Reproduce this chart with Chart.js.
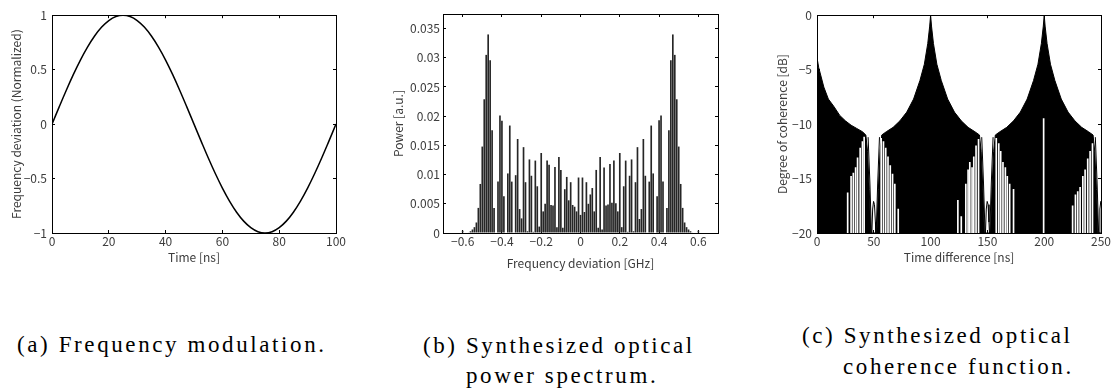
<!DOCTYPE html>
<html>
<head>
<meta charset="utf-8">
<title>Synthesized coherence</title>
<script src="https://cdn.jsdelivr.net/npm/chart.js@4.4.1/dist/chart.umd.min.js"></script>
<style>
    body { margin: 0; background: #fff; }
    #page { position: relative; width: 1115px; height: 390px; overflow: hidden; background: #fff; }
    .panel { position: absolute; top: 0; height: 275px; }
    .caption {
        position: absolute;
        font-family: "Liberation Serif", "Times New Roman", serif;
        font-size: 23px;
        line-height: 23px;
        letter-spacing: 2.6px;
        color: #000;
        white-space: nowrap;
    }
</style>
</head>
<body>
<div id="page">
    <div class="panel" style="left:0px;width:350px;"><canvas id="modChart"></canvas></div>
    <div class="panel" style="left:370px;width:360px;"><canvas id="specChart"></canvas></div>
    <div class="panel" style="left:740px;width:375px;"><canvas id="cohChart"></canvas></div>

    <div class="caption" style="left:17px;top:333px;">(a) Frequency modulation.</div>
    <div class="caption" style="left:423px;top:334px;">(b) Synthesized optical</div>
    <div class="caption" style="left:466px;top:364px;">power spectrum.</div>
    <div class="caption" style="left:802px;top:324px;">(c) Synthesized optical</div>
    <div class="caption" style="left:843px;top:355px;">coherence function.</div>
</div>
<script>
// (a) frequency modulation, one period
const modTime = [0, 2.5, 5, 7.5, 10, 12.5, 15, 17.5, 20, 22.5, 25, 27.5, 30, 32.5, 35, 37.5, 40, 42.5, 45, 47.5,
    50, 52.5, 55, 57.5, 60, 62.5, 65, 67.5, 70, 72.5, 75, 77.5, 80, 82.5, 85, 87.5, 90, 92.5, 95, 97.5, 100];
const modValue = [0, 0.156, 0.309, 0.454, 0.588, 0.707, 0.809, 0.891, 0.951, 0.988, 1, 0.988, 0.951, 0.891, 0.809, 0.707, 0.588, 0.454, 0.309, 0.156,
    0, -0.156, -0.309, -0.454, -0.588, -0.707, -0.809, -0.891, -0.951, -0.988, -1, -0.988, -0.951, -0.891, -0.809, -0.707, -0.588, -0.454, -0.309, -0.156, 0];
const modTicksX = [0, 20, 40, 60, 80, 100];
const modTicksY = [-1, -0.5, 0, 0.5, 1];

// (b) power spectrum lines [GHz] / [a.u.]
const specFreq = [
    -0.60, -0.59, -0.58, -0.57, -0.56, -0.55, -0.54, -0.53, -0.52, -0.51,
    -0.50, -0.49, -0.48, -0.47, -0.46, -0.45, -0.44, -0.43, -0.42, -0.41,
    -0.40, -0.39, -0.38, -0.37, -0.36, -0.35, -0.34, -0.33, -0.32, -0.31,
    -0.30, -0.29, -0.28, -0.27, -0.26, -0.25, -0.24, -0.23, -0.22, -0.21,
    -0.20, -0.19, -0.18, -0.17, -0.16, -0.15, -0.14, -0.13, -0.12, -0.11,
    -0.10, -0.09, -0.08, -0.07, -0.06, -0.05, -0.04, -0.03, -0.02, -0.01,
    0,
    0.01, 0.02, 0.03, 0.04, 0.05, 0.06, 0.07, 0.08, 0.09, 0.10,
    0.11, 0.12, 0.13, 0.14, 0.15, 0.16, 0.17, 0.18, 0.19, 0.20,
    0.21, 0.22, 0.23, 0.24, 0.25, 0.26, 0.27, 0.28, 0.29, 0.30,
    0.31, 0.32, 0.33, 0.34, 0.35, 0.36, 0.37, 0.38, 0.39, 0.40,
    0.41, 0.42, 0.43, 0.44, 0.45, 0.46, 0.47, 0.48, 0.49, 0.50,
    0.51, 0.52, 0.53, 0.54, 0.55, 0.56, 0.57, 0.58, 0.59, 0.60
];
const specPower = [
    0.0004, 0, 0, 0.0001, 0.0003, 0.0006, 0.0010, 0.0018, 0.0043, 0.0084,
    0.0148, 0.0229, 0.0305, 0.0340, 0.0296, 0.0176, 0.0043, 0.0001, 0.0088, 0.0201,
    0.0192, 0.0063, 0.0001, 0.0102, 0.0184, 0.0088, 0.0001, 0.0099, 0.0161, 0.0041,
    0.0025, 0.0147, 0.0087, 0.0003, 0.0126, 0.0098, 0.0002, 0.0124, 0.0080, 0.0011,
    0.0137, 0.0037, 0.0050, 0.0124, 0.0117, 0.0048, 0.0047, 0.0113, 0.0010, 0.0130,
    0.0108, 0.0009, 0.0075, 0.0096, 0.0056, 0.0087, 0.0048, 0.0045, 0.0037, 0.0095,
    0.0031,
    0.0095, 0.0036, 0.0087, 0.0050, 0.0066, 0.0077, 0.0037, 0.0108, 0.0009, 0.0130,
    0.0006, 0.0112, 0.0047, 0.0049, 0.0118, 0.0052, 0.0124, 0.0051, 0.0037, 0.0137,
    0.0010, 0.0080, 0.0124, 0.0002, 0.0098, 0.0126, 0.0003, 0.0087, 0.0147, 0.0024,
    0.0041, 0.0161, 0.0098, 0.0001, 0.0088, 0.0184, 0.0102, 0.0001, 0.0063, 0.0193,
    0.0201, 0.0088, 0.0001, 0.0043, 0.0176, 0.0296, 0.0340, 0.0305, 0.0229, 0.0148,
    0.0084, 0.0043, 0.0018, 0.0010, 0.0006, 0.0003, 0.0001, 0, 0, 0.0004
];
const specTicksX = [-0.6, -0.4, -0.2, 0, 0.2, 0.4, 0.6];
const specTicksY = [0, 0.005, 0.01, 0.015, 0.02, 0.025, 0.03, 0.035];

// (c) coherence: upper edge of the dense oscillation [ns] / [dB]
const cohTime = [0, 1.5, 3, 6, 10, 15, 20, 25, 30, 35, 40, 43, 44.5, 46, 47.3, 52.7, 54, 55.5, 57,
    61, 67, 73, 79, 85, 90.6, 94.5, 97.5, 99.2, 100, 100.8, 102.5, 105.5, 109.4, 115, 121, 127, 133, 139,
    143, 144.5, 146, 147.3, 152.7, 154, 155.5, 157,
    161, 167, 173, 179, 185, 190.6, 194.5, 197.5, 199.2, 200, 200.8, 202.5, 205.5, 209.4, 215, 221, 227, 233, 239,
    243, 244.5, 246, 247.3, 250];
const cohLevel = [-3.9, -4.8, -5.4, -6.6, -7.7, -8.4, -9.2, -9.7, -10.1, -10.4, -10.7, -11.0, -12.5, -16, -20, -20, -16, -12.5, -11.0,
    -10.7, -10.3, -9.7, -8.9, -7.7, -6.0, -4.5, -2.6, -1.0, 0, -1.0, -2.6, -4.5, -6.0, -7.7, -8.9, -9.7, -10.3, -10.7,
    -11.0, -12.5, -16, -20, -20, -16, -12.5, -11.0,
    -10.7, -10.3, -9.7, -8.9, -7.7, -6.0, -4.5, -2.6, -1.0, 0, -1.0, -2.6, -4.5, -6.0, -7.7, -8.9, -9.7, -10.3, -10.7,
    -11.0, -12.5, -16, -20, -20];
const cohTicksX = [0, 50, 100, 150, 200, 250];
const cohTicksY = [-20, -15, -10, -5, 0];

// white stripes inside the black mass (from -20 dB up to the given level)
const cohGapTime = [27, 30, 32, 34, 35.7, 38, 40, 41.5,
    56.5, 58.5, 60.5, 62.5, 64.5, 66.5, 68.5, 71.5,
    124, 127, 131, 133, 134.5, 136.5, 138, 140, 142.2,
    157.8, 160, 161.7, 163.7, 165.8, 167.5, 169.6, 173,
    199.5,
    225, 227.5, 229.5, 231.6, 234, 236, 238.3, 240.4, 242.5];
const cohGapTop = [-16.3, -14.8, -14.5, -14.0, -13.1, -12.2, -11.6, -11.2,
    -11.3, -11.6, -12.2, -13.0, -13.8, -14.6, -15.5, -17.8,
    -17.0, -18.5, -15.5, -14.2, -13.5, -14.0, -13.0, -12.0, -11.4,
    -11.3, -11.8, -12.5, -13.5, -14.0, -14.8, -15.5, -16.0,
    -9.5,
    -17.5, -16.5, -16.2, -15.8, -14.8, -14.2, -13.2, -12.5, -11.8];

// black traces left inside the open valleys (null = pen up)
const cohInnerTime = [45, 46.6, 47.9, 48, 48.3, 49.0, 49.8, 50.6, 51.4, 51.8, 52, 52.1, 53.4, 55, 56,
    145, 146.6, 147.9, 148, 148.3, 149.0, 149.8, 150.6, 151.4, 151.8, 152, 152.1, 153.4, 155, 156,
    245, 246.6, 247.9, 248, 248.3, 249.0, 249.8, 250];
const cohInnerLevel = [-11.2, -15.5, -20, null, -20, -17.8, -17.1, -17.4, -19.0, -20, null, -20, -15.5, -11.2, null,
    -11.2, -15.5, -20, null, -20, -17.8, -17.1, -17.4, -19.0, -20, null, -20, -15.5, -11.2, null,
    -11.2, -15.5, -20, null, -20, -17.8, -17.1, -17.2];

const labelFamily = '"Noto Sans CJK JP", "Noto Sans", "DejaVu Sans", sans-serif';
const textColor = '#3c3c3c';

Chart.defaults.animation = false;
Chart.defaults.plugins.legend.display = false;
Chart.defaults.plugins.tooltip.enabled = false;

function makePoints(xs, ys) {
    return xs.map((x, i) => ({ x: x, y: ys[i] }));
}

function formatTick(value) {
    return String(+value.toFixed(4)).replace('-', '\u2212');
}

function fixedTicks(list) {
    return scale => { scale.ticks = list.map(v => ({ value: v })); };
}

// MATLAB style box: ticks pointing inwards on all four sides
function frameScales(f) {
    const font = { family: labelFamily, size: 12 };
    const inward = { drawOnChartArea: false, tickLength: -3, color: '#000', tickColor: '#000', offset: false };
    const edge = { display: true, color: '#000', width: 1 };
    return {
        x: {
            type: 'linear', position: 'bottom', min: f.xMin, max: f.xMax, offset: false,
            afterBuildTicks: fixedTicks(f.xTicks),
            afterFit: s => { s.height = f.xHeight; },
            ticks: { autoSkip: false, maxRotation: 0, padding: 4, color: textColor, font: font, callback: formatTick },
            grid: inward,
            border: edge,
            title: { display: true, text: f.xTitle, color: textColor, font: font, padding: { top: 0, bottom: f.xTitlePad } }
        },
        y: {
            type: 'linear', position: 'left', min: f.yMin, max: f.yMax,
            afterBuildTicks: fixedTicks(f.yTicks),
            afterFit: s => { s.width = f.yWidth; },
            ticks: { autoSkip: false, padding: f.yTickPad, color: textColor, font: font, callback: formatTick },
            grid: inward,
            border: edge,
            title: { display: true, text: f.yTitle, color: textColor, font: font, padding: { top: f.yTitlePad, bottom: 0 } }
        },
        x2: {
            type: 'linear', position: 'top', min: f.xMin, max: f.xMax, offset: false,
            afterBuildTicks: fixedTicks(f.xTicks),
            afterFit: s => { s.height = 0; },
            ticks: { display: false },
            grid: inward,
            border: edge
        },
        y2: {
            type: 'linear', position: 'right', min: f.yMin, max: f.yMax,
            afterBuildTicks: fixedTicks(f.yTicks),
            afterFit: s => { s.width = 0; },
            ticks: { display: false },
            grid: inward,
            border: edge
        }
    };
}

function drawModulation() {
    new Chart(document.getElementById('modChart'), {
        type: 'line',
        data: {
            datasets: [{
                data: makePoints(modTime, modValue),
                borderColor: '#000',
                borderWidth: 1.5,
                pointRadius: 0,
                tension: 0.4,
                fill: false
            }]
        },
        options: {
            responsive: true,
            maintainAspectRatio: false,
            layout: { autoPadding: false, padding: { left: 0, top: 12, right: 14, bottom: 0 } },
            scales: frameScales({
                xMin: 0, xMax: 100, xTicks: modTicksX, xTitle: 'Time [ns]', xHeight: 42, xTitlePad: 10,
                yMin: -1, yMax: 1, yTicks: modTicksY, yTitle: 'Frequency deviation (Normalized)', yWidth: 52, yTitlePad: 9, yTickPad: 8
            })
        }
    });
}

function drawSpectrum() {
    new Chart(document.getElementById('specChart'), {
        type: 'bar',
        data: {
            datasets: [{
                data: makePoints(specFreq, specPower),
                backgroundColor: '#262626',
                borderWidth: 0,
                categoryPercentage: 1,
                barPercentage: 0.85
            }]
        },
        options: {
            responsive: true,
            maintainAspectRatio: false,
            layout: { autoPadding: false, padding: { left: 0, top: 14, right: 12, bottom: 0 } },
            scales: frameScales({
                xMin: -0.7, xMax: 0.7, xTicks: specTicksX, xTitle: 'Frequency deviation [GHz]', xHeight: 42, xTitlePad: 4,
                yMin: 0, yMax: 0.0375, yTicks: specTicksY, yTitle: 'Power [a.u.]', yWidth: 73, yTitlePad: 21, yTickPad: 6
            })
        }
    });
}

function drawCoherence() {
    new Chart(document.getElementById('cohChart'), {
        type: 'line',
        data: {
            datasets: [
                {
                    type: 'line',
                    data: makePoints(cohInnerTime, cohInnerLevel),
                    borderColor: '#000',
                    borderWidth: 1,
                    pointRadius: 0,
                    spanGaps: false,
                    fill: false,
                    order: 1
                },
                {
                    type: 'bar',
                    data: makePoints(cohGapTime, cohGapTop.map(top => [-20, top])),
                    backgroundColor: '#fff',
                    borderWidth: 0,
                    barThickness: 1,
                    order: 2
                },
                {
                    type: 'line',
                    data: makePoints(cohTime, cohLevel),
                    borderColor: '#000',
                    backgroundColor: '#000',
                    borderWidth: 1,
                    pointRadius: 0,
                    fill: 'start',
                    order: 3
                }
            ]
        },
        options: {
            responsive: true,
            maintainAspectRatio: false,
            layout: { autoPadding: false, padding: { left: 0, top: 14, right: 13, bottom: 0 } },
            scales: frameScales({
                xMin: 0, xMax: 250, xTicks: cohTicksX, xTitle: 'Time difference [ns]', xHeight: 42, xTitlePad: 10,
                yMin: -20, yMax: 0, yTicks: cohTicksY, yTitle: 'Degree of coherence [dB]', yWidth: 77, yTitlePad: 35, yTickPad: 8
            })
        }
    });
}

drawModulation();
drawSpectrum();
drawCoherence();
</script>
</body>
</html>
